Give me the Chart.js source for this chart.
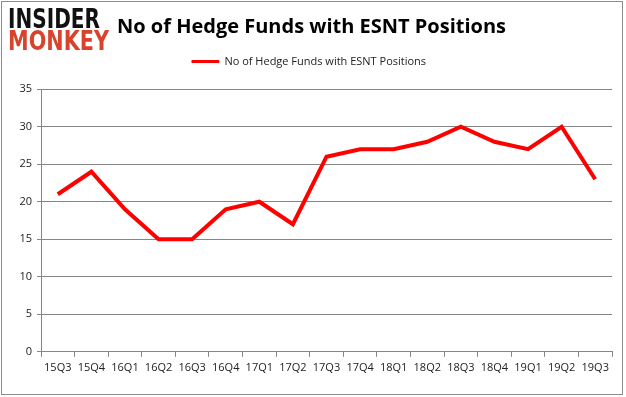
<!DOCTYPE html>
<html>
<head>
<meta charset="utf-8">
<script src="https://cdn.jsdelivr.net/npm/chart.js@4.4.0/dist/chart.umd.min.js"></script>
<style>
  html, body { margin: 0; padding: 0; background: #fff; }
  #wrap { position: relative; width: 626px; height: 397px; }
</style>
</head>
<body>
<div id="wrap"><canvas id="chart" width="626" height="397"></canvas></div>
<script>
const quarters = ['15Q3', '15Q4', '16Q1', '16Q2', '16Q3', '16Q4', '17Q1', '17Q2', '17Q3',
  '17Q4', '18Q1', '18Q2', '18Q3', '18Q4', '19Q1', '19Q2', '19Q3'];
const hedgeFunds = [21, 24, 19, 15, 15, 19, 20, 17, 26, 27, 27, 28, 30, 28, 27, 30, 23];
const yTicks = [0, 5, 10, 15, 20, 25, 30, 35];
const seriesName = 'No of Hedge Funds with ESNT Positions';
const chartTitle = 'No of Hedge Funds with ESNT Positions';

const FONT = '"Open Sans", "DejaVu Sans", sans-serif';

// logo, title and frame drawn on top
const decor = {
  id: 'decor',
  afterDraw(chart) {
    const c = chart.ctx;
    c.save();
    c.strokeStyle = '#8c8c8c';
    c.lineWidth = 1;
    c.strokeRect(1.5, 1.5, 621, 393);

    function stretched(text, x, y, w, h, color) {
      c.save();
      c.font = 'bold 20px "DejaVu Sans", sans-serif';
      const m = c.measureText(text).width;
      c.translate(x, y);
      c.scale(w / m, h / 15);
      c.fillStyle = color;
      c.textBaseline = 'alphabetic';
      c.fillText(text, 0, 0);
      c.restore();
    }
    stretched('INSIDER', 8, 28, 92, 20, '#111');
    stretched('MONKEY', 8, 50, 101, 20, '#d8432c');

    c.fillStyle = '#000';
    c.font = 'bold 20px ' + FONT;
    c.textBaseline = 'middle';
    c.fillText(chartTitle, 117, 27);
    c.restore();
  }
};

new Chart(document.getElementById('chart'), {
  type: 'line',
  data: {
    labels: quarters,
    datasets: [{
      label: seriesName,
      data: hedgeFunds,
      borderColor: '#ff0000',
      backgroundColor: '#ff0000',
      borderWidth: 4,
      pointRadius: 0,
      tension: 0
    }]
  },
  options: {
    responsive: false,
    animation: false,
    layout: { padding: { top: 44, left: 6, right: 14, bottom: 19 } },
    plugins: {
      legend: {
        position: 'top',
        labels: {
          color: '#222',
          font: { family: FONT, size: 11 },
          boxWidth: 27,
          boxHeight: 2,
          padding: 12,
          generateLabels: chart =>
            Chart.defaults.plugins.legend.labels.generateLabels(chart)
              .map(l => Object.assign(l, { lineWidth: 1 }))
        }
      },
      // blank spacer between legend and plot area
      subtitle: {
        display: true,
        text: ' ',
        position: 'top',
        weight: 500,
        font: { size: 1 },
        padding: { top: 0, bottom: 11 }
      },
      tooltip: { enabled: false }
    },
    scales: {
      x: {
        offset: true,
        grid: { display: true, drawOnChartArea: false, offset: true, tickLength: 5, color: '#868686' },
        border: { color: '#868686' },
        ticks: { color: '#222', font: { family: FONT, size: 11 }, maxRotation: 0, autoSkip: false, padding: 4 }
      },
      y: {
        min: 0,
        max: 35,
        afterBuildTicks: s => { s.ticks = yTicks.map(v => ({ value: v })); },
        afterFit: s => { s.width = 35; },
        grid: { color: '#868686', tickLength: 4 },
        border: { color: '#868686' },
        ticks: { color: '#222', font: { family: FONT, size: 11 }, padding: 5 }
      }
    }
  },
  plugins: [decor]
});
</script>
</body>
</html>
